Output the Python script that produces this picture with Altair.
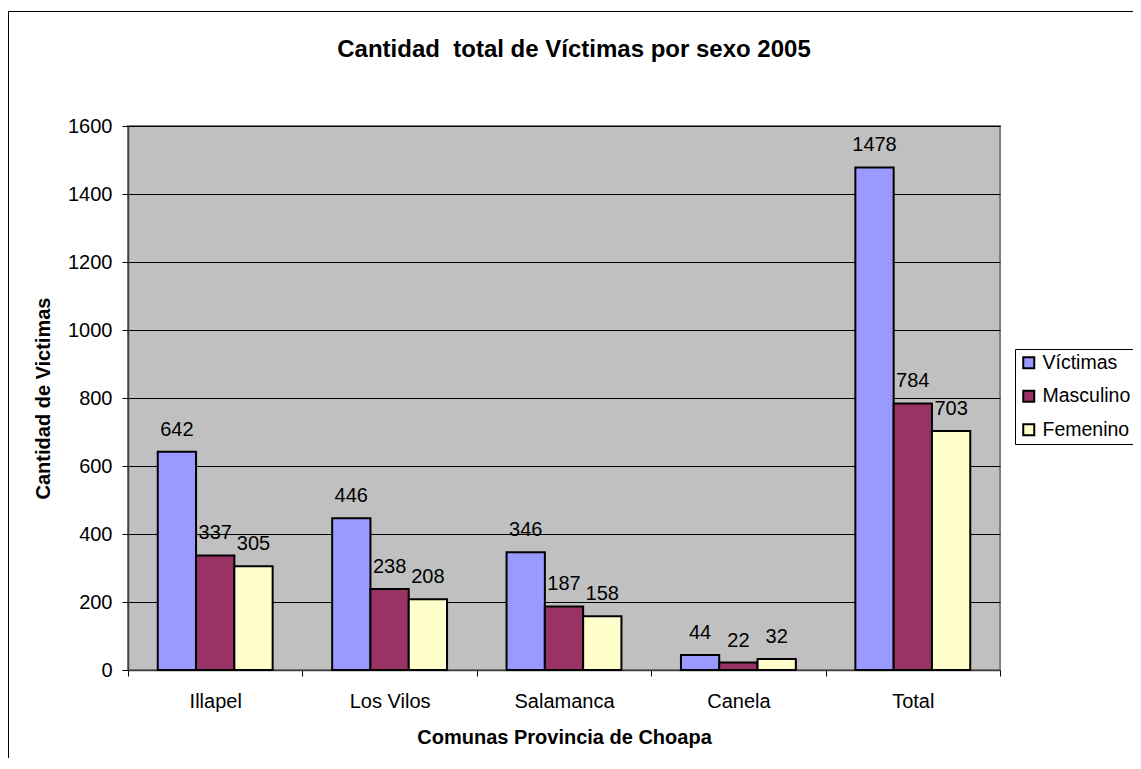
import altair as alt
import pandas as pd

comunas = ["Illapel", "Los Vilos", "Salamanca", "Canela", "Total"]
series = ["Víctimas", "Masculino", "Femenino"]
victimas = [642, 446, 346, 44, 1478]
masculino = [337, 238, 187, 22, 784]
femenino = [305, 208, 158, 32, 703]
colors = ["#9999FF", "#993366", "#FFFFCC"]
y_ticks = [0, 200, 400, 600, 800, 1000, 1200, 1400, 1600]

rows = []
for i, c in enumerate(comunas):
    for s, vals in zip(series, [victimas, masculino, femenino]):
        rows.append({"Comuna": c, "Serie": s, "Valor": vals[i]})
df = pd.DataFrame(rows)

FONT = "Liberation Sans"

x = alt.X(
    "Comuna:N", sort=comunas,
    scale=alt.Scale(paddingInner=0, paddingOuter=0),
    axis=alt.Axis(
        title="Comunas Provincia de Choapa", labelAngle=0, tickBand="extent",
        tickSize=6, tickColor="#000000", domainColor="#404040", domainWidth=1.5,
        labelFont=FONT, labelFontSize=20, labelColor="#000000", labelPadding=15,
        titleFont=FONT, titleFontSize=20, titleFontWeight="bold", titleColor="#000000",
        titlePadding=16, grid=False,
    ),
)
xo = alt.XOffset("Serie:N", sort=series, scale=alt.Scale(paddingInner=0, paddingOuter=0.777))
y = alt.Y(
    "Valor:Q",
    scale=alt.Scale(domain=[0, 1600], nice=False),
    axis=alt.Axis(
        title="Cantidad de Victimas", values=y_ticks, format="d", tickSize=6,
        tickColor="#000000", domainColor="#404040", domainWidth=1.5, grid=True,
        gridColor="#000000", gridWidth=1,
        labelFont=FONT, labelFontSize=20, labelColor="#000000", labelPadding=10,
        titleFont=FONT, titleFontSize=20, titleFontWeight="bold", titleColor="#000000",
        titlePadding=14,
    ),
)
color = alt.Color(
    "Serie:N", sort=series,
    scale=alt.Scale(domain=series, range=colors),
    legend=alt.Legend(
        title=None, orient="none", legendX=887, legendY=223, direction="vertical",
        fillColor="#FFFFFF", strokeColor="#000000", padding=4, cornerRadius=0,
        symbolType="square", symbolSize=121, symbolStrokeColor="#000000", symbolStrokeWidth=2,
        symbolOpacity=1, labelFont=FONT, labelFontSize=19.5, labelColor="#000000",
        rowPadding=12.5, labelOffset=4,
    ),
)

frame = alt.Chart(pd.DataFrame({"k": [0]})).mark_rect(
    fillOpacity=0, stroke="#000000", strokeWidth=1
).encode(
    x=alt.value(-119.5), x2=alt.value(1300), y=alt.value(-114.5), y2=alt.value(900)
)

bars = alt.Chart(df).mark_bar(stroke="#000000", strokeWidth=2).encode(
    x=x, xOffset=xo, y=y, color=color
)
labels = alt.Chart(df).mark_text(
    baseline="alphabetic", dy=-16, fontSize=20, font=FONT, color="#000000"
).encode(x=x, xOffset=xo, y=y, text="Valor:Q")

chart = alt.layer(frame, bars, labels).properties(
    width=872, height=544,
    autosize=alt.AutoSizeParams(type="none"),
    padding={"left": 120, "top": 118, "right": 133, "bottom": 88},
    title=alt.TitleParams(
        "Cantidad\u00a0 total de Víctimas por sexo 2005", font=FONT, fontSize=24,
        fontWeight="bold", color="#000000", anchor="middle", dx=10,
        baseline="alphabetic", offset=0, dy=69.5, frame="group",
    ),
).configure_view(
    fill="#C0C0C0", stroke="#808080", strokeWidth=2
)

chart.save("out.html", embed_options={"renderer": "svg", "actions": False})
